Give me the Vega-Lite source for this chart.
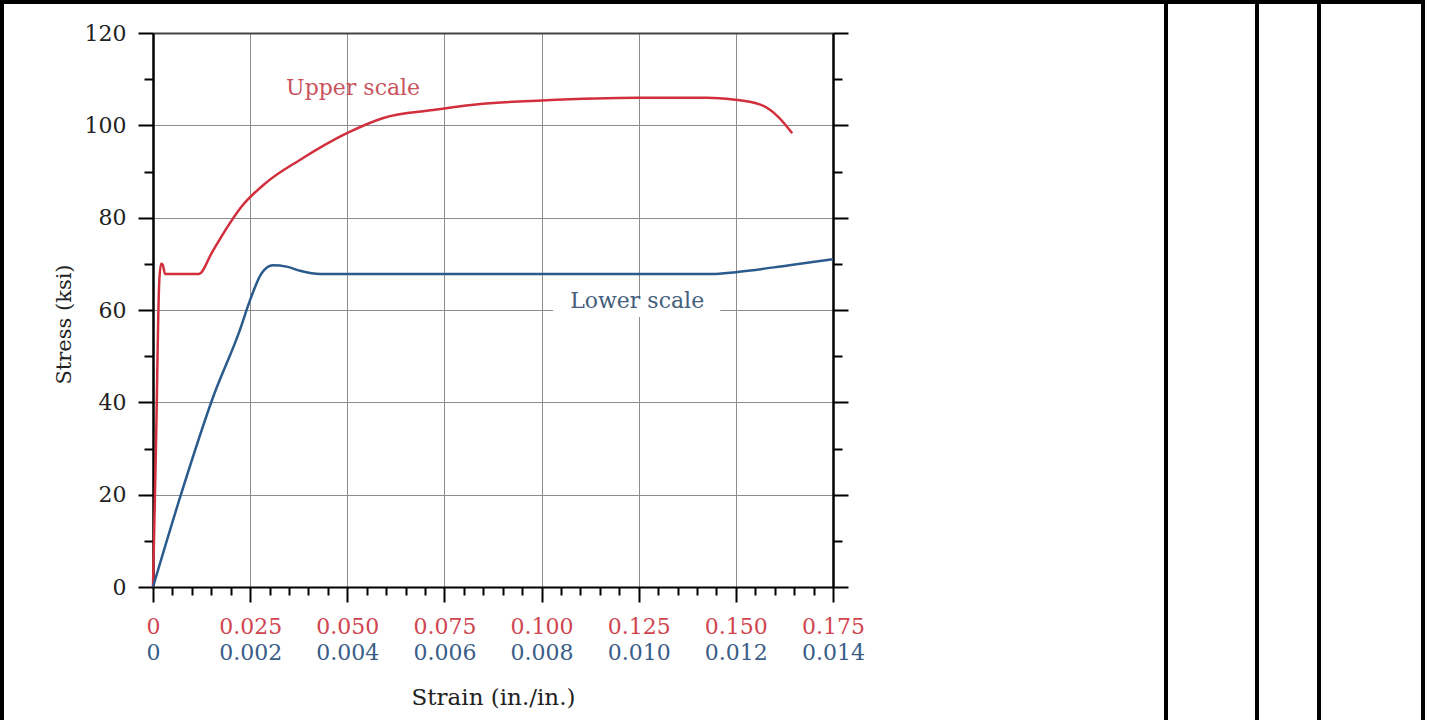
{
  "$schema": "https://vega.github.io/schema/vega-lite/v6.json",
  "autosize": {"type": "pad"},
  "padding": 0,
  "background": "white",
  "spacing": 0,
  "bounds": "flush",
  "config": {
    "view": {"stroke": "black", "strokeWidth": 4},
    "font": "DejaVu Serif",
    "axis": {"labelFont": "DejaVu Serif", "titleFont": "DejaVu Serif", "labelFlush": false, "labelOverlap": false, "labelBound": false}
  },
  "datasets": {
    "upper": [
      {"strain": 0, "stress": 0},
      {"strain": 0.0008, "stress": 32},
      {"strain": 0.0016, "stress": 66},
      {"strain": 0.0021, "stress": 70},
      {"strain": 0.0025, "stress": 69.8},
      {"strain": 0.0031, "stress": 67.8},
      {"strain": 0.0118, "stress": 67.8},
      {"strain": 0.0152, "stress": 72.5},
      {"strain": 0.019, "stress": 77.8},
      {"strain": 0.0224, "stress": 82},
      {"strain": 0.0293, "stress": 87.7},
      {"strain": 0.0378, "stress": 92.5},
      {"strain": 0.0499, "stress": 98.3},
      {"strain": 0.0593, "stress": 101.6},
      {"strain": 0.0721, "stress": 103.3},
      {"strain": 0.0842, "stress": 104.6},
      {"strain": 0.1001, "stress": 105.4},
      {"strain": 0.1249, "stress": 106},
      {"strain": 0.1426, "stress": 106},
      {"strain": 0.1493, "stress": 105.6},
      {"strain": 0.1563, "stress": 104.5},
      {"strain": 0.1607, "stress": 102},
      {"strain": 0.1645, "stress": 98.3}
    ],
    "lower": [
      {"strain": 0, "stress": 0},
      {"strain": 0.00056, "stress": 19.5},
      {"strain": 0.00124, "stress": 41.2},
      {"strain": 0.00179, "stress": 55.7},
      {"strain": 0.002, "stress": 62.2},
      {"strain": 0.00224, "stress": 68},
      {"strain": 0.00247, "stress": 69.7},
      {"strain": 0.00275, "stress": 69.4},
      {"strain": 0.00303, "stress": 68.5},
      {"strain": 0.00344, "stress": 67.8},
      {"strain": 0.0115, "stress": 67.8},
      {"strain": 0.012, "stress": 68.2},
      {"strain": 0.0131, "stress": 69.7},
      {"strain": 0.014, "stress": 71.0}
    ],
    "labels": [
      {"label": "Upper scale", "strain": 0.0515, "stress": 108},
      {"label": "Lower scale", "strain": 0.1246, "stress": 62}
    ],
    "blank": [{"cell": "empty"}]
  },
  "hconcat": [
    {
      "width": 1164,
      "height": 760,
      "layer": [
        {
          "data": {"values": [{"note": "label background"}]},
          "mark": {"type": "rect", "fill": "white"},
          "encoding": {
            "x": {"datum": 0.103, "type": "quantitative",
              "scale": {"domain": [0, 0.175], "range": [151, 831], "nice": false, "zero": false},
              "axis": {"orient": "top", "offset": -31, "values": [0, 0.025, 0.05, 0.075, 0.1, 0.125, 0.15, 0.175], "ticks": false, "labels": false, "domain": true, "domainColor": "#444", "domainWidth": 2, "grid": true, "gridColor": "#8c8c8c", "gridWidth": 1, "title": null}},
            "x2": {"datum": 0.146},
            "y": {"datum": 58.5, "type": "quantitative",
              "scale": {"domain": [0, 120], "range": [585, 31], "nice": false, "zero": false},
              "axis": {"orient": "left", "offset": -151, "values": [10, 30, 50, 70, 90, 110], "tickSize": 9, "tickWidth": 2, "tickColor": "black", "labels": false, "domain": false, "grid": false, "title": null}},
            "y2": {"datum": 63}
          }
        },
        {
          "data": {"name": "upper"},
          "mark": {"type": "line", "color": "#d22f3d", "strokeWidth": 2.5, "interpolate": "monotone"},
          "encoding": {
            "x": {"field": "strain", "type": "quantitative",
              "scale": {"domain": [0, 0.175], "range": [151, 831], "nice": false, "zero": false},
              "axis": {"orient": "bottom", "offset": -175, "values": [0, 0.025, 0.05, 0.075, 0.1, 0.125, 0.15, 0.175], "labelExpr": "datum.value == 0 ? '0' : format(datum.value, '.3f')", "tickSize": 15, "tickWidth": 2, "tickColor": "black", "domainColor": "black", "domainWidth": 2, "labelColor": "#cf4651", "labelFontSize": 22, "labelPadding": 14, "grid": false, "title": null}},
            "y": {"field": "stress", "type": "quantitative",
              "scale": {"domain": [0, 120], "range": [585, 31], "nice": false, "zero": false},
              "axis": {"orient": "left", "offset": -151, "values": [0, 20, 40, 60, 80, 100, 120], "tickSize": 15, "tickWidth": 2, "tickColor": "black", "domainColor": "black", "domainWidth": 2.5, "labelColor": "#222", "labelFontSize": 22, "labelPadding": 12, "grid": true, "gridColor": "#8c8c8c", "gridWidth": 1, "title": "Stress (ksi)", "titleFontSize": 21, "titleFontWeight": "normal", "titleColor": "#222", "titlePadding": 10, "titleY": 322}}
          }
        },
        {
          "data": {"name": "lower"},
          "mark": {"type": "line", "color": "#2b5a8c", "strokeWidth": 2.5, "interpolate": "monotone"},
          "encoding": {
            "x": {"field": "strain", "type": "quantitative",
              "scale": {"domain": [0, 0.014], "range": [151, 831], "nice": false, "zero": false},
              "axis": {"orient": "bottom", "offset": -175, "values": [0, 0.002, 0.004, 0.006, 0.008, 0.01, 0.012, 0.014], "labelExpr": "datum.value == 0 ? '0' : format(datum.value, '.3f')", "ticks": false, "tickSize": 0, "domain": false, "labelColor": "#3a5d88", "labelFontSize": 22, "labelPadding": 55, "grid": false, "title": "Strain (in./in.)", "titleFontSize": 23, "titleFontWeight": "normal", "titleColor": "#222", "titlePadding": 23}},
            "y": {"field": "stress", "type": "quantitative",
              "scale": {"domain": [0, 120], "range": [585, 31], "nice": false, "zero": false},
              "axis": {"orient": "right", "offset": -333, "values": [0, 20, 40, 60, 80, 100, 120], "tickSize": 15, "tickWidth": 2, "tickColor": "black", "labels": false, "domainColor": "black", "domainWidth": 2.5, "grid": false, "title": null}}
          }
        },
        {
          "data": {"name": "labels"},
          "mark": {"type": "text", "fontSize": 22, "font": "DejaVu Serif"},
          "encoding": {
            "x": {"field": "strain", "type": "quantitative",
              "scale": {"domain": [0, 0.175], "range": [151, 831], "nice": false, "zero": false},
              "axis": {"orient": "bottom", "offset": -175, "values": [0.005, 0.01, 0.015, 0.02, 0.03, 0.035, 0.04, 0.045, 0.055, 0.06, 0.065, 0.07, 0.08, 0.085, 0.09, 0.095, 0.105, 0.11, 0.115, 0.12, 0.13, 0.135, 0.14, 0.145, 0.155, 0.16, 0.165, 0.17], "tickSize": 8, "tickWidth": 2, "tickColor": "black", "labels": false, "domain": false, "grid": false, "title": null}},
            "y": {"field": "stress", "type": "quantitative",
              "scale": {"domain": [0, 120], "range": [585, 31], "nice": false, "zero": false},
              "axis": {"orient": "right", "offset": -333, "values": [10, 30, 50, 70, 90, 110], "tickSize": 9, "tickWidth": 2, "tickColor": "black", "labels": false, "domain": false, "grid": false, "title": null}},
            "text": {"field": "label", "type": "nominal"},
            "color": {"field": "label", "type": "nominal", "scale": {"domain": ["Upper scale", "Lower scale"], "range": ["#c9535d", "#44607c"]}, "legend": null}
          }
        }
      ],
      "resolve": {"scale": {"x": "independent"}, "axis": {"x": "independent", "y": "independent"}}
    },
    {"width": 91, "height": 760, "data": {"name": "blank"}, "mark": {"type": "rect", "fill": "white", "stroke": "black", "strokeWidth": 4}},
    {"width": 62, "height": 760, "data": {"name": "blank"}, "mark": {"type": "rect", "fill": "white", "stroke": "black", "strokeWidth": 4}},
    {"width": 104, "height": 760, "data": {"name": "blank"}, "mark": {"type": "rect", "fill": "white", "stroke": "black", "strokeWidth": 4}}
  ]
}
